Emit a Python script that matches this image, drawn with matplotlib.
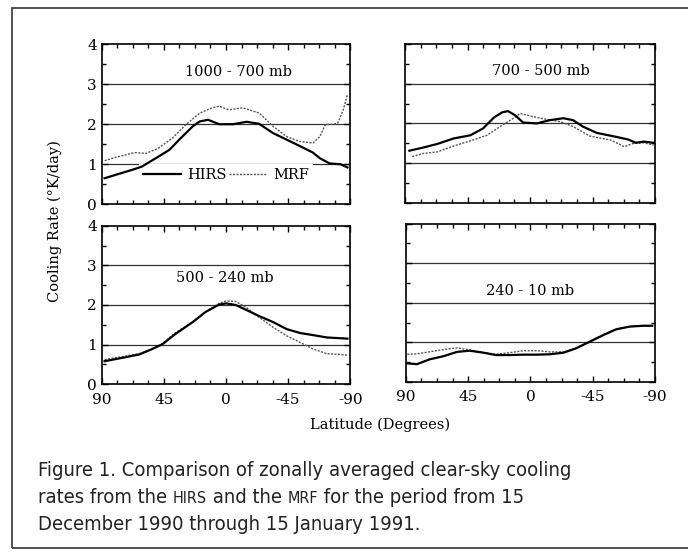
import numpy as np
import matplotlib.pyplot as plt
from matplotlib.ticker import MultipleLocator
from matplotlib.lines import Line2D
from matplotlib.patches import Rectangle

plt.rcParams['axes.unicode_minus'] = False
plt.rcParams['font.family'] = 'DejaVu Serif'

# 1000 - 700 mb
lat_a_hirs = [88, 68, 61, 49, 41, 34, 24, 19, 13, 5, -5, -15, -24, -34, -49, -63, -68, -75, -83, -88]
rate_a_hirs = [0.65, 0.86, 0.94, 1.19, 1.36, 1.61, 1.95, 2.07, 2.11, 2.0, 2.0, 2.06, 2.01, 1.78, 1.53, 1.29, 1.15, 1.02, 1.0, 0.92]
lat_a_mrf = [88, 78, 66, 58, 49, 39, 29, 19, 10, 5, -2, -12, -24, -34, -44, -53, -63, -68, -72, -78, -81, -85, -88]
rate_a_mrf = [1.09, 1.19, 1.29, 1.27, 1.40, 1.65, 1.99, 2.28, 2.41, 2.45, 2.36, 2.41, 2.28, 1.95, 1.69, 1.57, 1.53, 1.69, 1.99, 2.0, 2.03, 2.36, 2.74]

# 700 - 500 mb
lat_b_hirs = [87, 77, 67, 55, 43, 34, 26, 20, 16, 11, 5, -5, -14, -24, -31, -38, -48, -62, -71, -76, -82, -89]
rate_b_hirs = [1.31, 1.39, 1.48, 1.62, 1.70, 1.87, 2.15, 2.28, 2.31, 2.21, 2.02, 2.0, 2.08, 2.13, 2.08, 1.92, 1.76, 1.66, 1.59, 1.51, 1.54, 1.51]
lat_b_mrf = [85, 77, 67, 55, 43, 31, 19, 12, 7, -2, -12, -22, -31, -43, -58, -68, -74, -82, -89]
rate_b_mrf = [1.16, 1.24, 1.28, 1.43, 1.56, 1.70, 1.98, 2.13, 2.25, 2.17, 2.10, 2.04, 1.92, 1.68, 1.58, 1.41, 1.49, 1.51, 1.45]

# 500 - 240 mb
lat_c = [88, 73, 63, 54, 46, 37, 24, 15, 5, 0, -7, -15, -24, -34, -44, -54, -63, -73, -83, -88]
rate_c_hirs = [0.58, 0.68, 0.75, 0.88, 1.01, 1.26, 1.57, 1.82, 2.01, 2.04, 2.0, 1.87, 1.72, 1.57, 1.39, 1.29, 1.24, 1.18, 1.16, 1.15]
rate_c_mrf = [0.62, 0.71, 0.77, 0.88, 1.03, 1.29, 1.58, 1.82, 2.04, 2.10, 2.09, 1.93, 1.69, 1.44, 1.22, 1.05, 0.89, 0.77, 0.75, 0.73]

# 240 - 10 mb
lat_d = [89, 82, 73, 63, 53, 44, 34, 25, 15, 5, -5, -14, -24, -33, -43, -53, -62, -72, -82, -88]
rate_d_hirs = [0.47, 0.45, 0.57, 0.65, 0.76, 0.79, 0.74, 0.68, 0.68, 0.69, 0.69, 0.70, 0.74, 0.85, 1.02, 1.19, 1.33, 1.40, 1.42, 1.42]
rate_d_mrf = [0.70, 0.71, 0.76, 0.82, 0.86, 0.81, 0.74, 0.70, 0.74, 0.79, 0.79, 0.76, 0.76, 0.86, 1.03, 1.20, 1.34, 1.40, 1.42, 1.42]

titles = ['1000 - 700 mb', '700 - 500 mb', '500 - 240 mb', '240 - 10 mb']
title_pos = [(-9, 3.31), (-8, 3.33), (1, 2.68), (0, 2.29)]

panels = [
    (lat_a_hirs, rate_a_hirs, lat_a_mrf, rate_a_mrf),
    (lat_b_hirs, rate_b_hirs, lat_b_mrf, rate_b_mrf),
    (lat_c, rate_c_hirs, lat_c, rate_c_mrf),
    (lat_d, rate_d_hirs, lat_d, rate_d_mrf),
]

boxes = [
    [0.148, 0.630, 0.361, 0.290],
    [0.589, 0.633, 0.363, 0.287],
    [0.148, 0.304, 0.361, 0.287],
    [0.590, 0.308, 0.362, 0.287],
]

fig = plt.figure(figsize=(6.88, 5.52), dpi=100)

mrf_style = dict(color='#555555', lw=1.0, ls=(0, (1.5, 1.0)))
hirs_style = dict(color='black', lw=1.6, ls='-')

axs = []
for i, (lh, rh, lm, rm) in enumerate(panels):
    ax = fig.add_axes(boxes[i])
    for g in [1, 2, 3]:
        ax.axhline(g, color='#333333', lw=0.9, zorder=1)
    ax.plot(lm, rm, zorder=3, **mrf_style)
    ax.plot(lh, rh, zorder=4, **hirs_style)
    ax.set_xlim(90, -90)
    ax.set_ylim(0, 4)
    ax.xaxis.set_major_locator(MultipleLocator(45))
    ax.xaxis.set_minor_locator(MultipleLocator(11.25))
    ax.yaxis.set_major_locator(MultipleLocator(1))
    ax.yaxis.set_minor_locator(MultipleLocator(0.5))
    ax.tick_params(which='both', direction='in', top=True, right=True,
                   labelsize=11, length=3, width=1)
    ax.tick_params(which='major', length=4)
    ax.tick_params(axis='x', pad=6)
    for s in ax.spines.values():
        s.set_linewidth(1.2)
    if i % 2 == 1:
        ax.tick_params(labelleft=False)
    if i < 2:
        ax.tick_params(labelbottom=False)
    ax.text(title_pos[i][0], title_pos[i][1], titles[i], ha='center', va='center',
            fontsize=10.5, zorder=5)
    axs.append(ax)

handles = [Line2D([], [], **hirs_style), Line2D([], [], **mrf_style)]
leg = axs[0].legend(handles, ['HIRS', 'MRF'], ncol=2, loc='center',
                    bbox_to_anchor=(0.5, 0.18), frameon=True, fancybox=False,
                    framealpha=1, edgecolor='none', facecolor='white',
                    fontsize=10.5, handlelength=2.6, handletextpad=0.4,
                    columnspacing=0.2, borderpad=0.3)
leg.set_zorder(2)

fig.text(0.08, 0.60, 'Cooling Rate (°K/day)', rotation=90, ha='center', va='center',
         fontsize=10.5)
fig.text(0.552, 0.23, 'Latitude (Degrees)', ha='center', va='center', fontsize=10.5)

# outer frame
fig.patches.append(Rectangle((0.0174, 0.007), 1.0, 0.9785, transform=fig.transFigure,
                             fill=False, edgecolor='#444444', lw=1.3, clip_on=False))

# caption with small caps for HIRS / MRF
renderer = fig.canvas.get_renderer()


def caption_line(x, y, pieces):
    for txt, size in pieces:
        t = fig.text(x, y, txt, fontsize=size, family='DejaVu Sans', stretch='condensed',
                     va='baseline', color='#222222')
        bb = t.get_window_extent(renderer=renderer)
        x += bb.width / fig.bbox.width


caption_line(0.055, 0.138, [('Figure 1. Comparison of zonally averaged clear-sky cooling', 14.5)])
caption_line(0.055, 0.089, [('rates from the ', 14.5), ('HIRS', 11.5), (' and the ', 14.5),
                            ('MRF', 11.5), (' for the period from 15', 14.5)])
caption_line(0.055, 0.040, [('December 1990 through 15 January 1991.', 14.5)])

fig.savefig('out.png', dpi=100)
